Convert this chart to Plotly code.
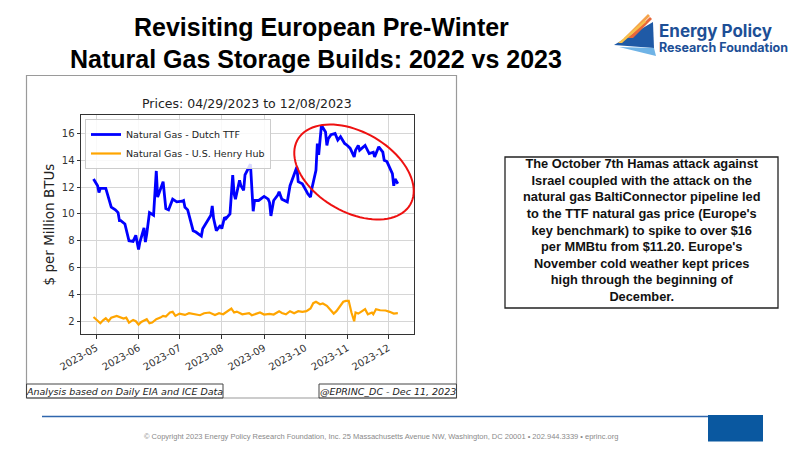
import numpy as np
import plotly.graph_objects as go

# Dutch TTF, $/MMBtu
ttf_dates = ["2023-04-29", "2023-05-02", "2023-05-03", "2023-05-04", "2023-05-08", "2023-05-10",
             "2023-05-12", "2023-05-15", "2023-05-17", "2023-05-18", "2023-05-19", "2023-05-22",
             "2023-05-25", "2023-05-28", "2023-05-30", "2023-06-01", "2023-06-02", "2023-06-05",
             "2023-06-06", "2023-06-07", "2023-06-09", "2023-06-12", "2023-06-14", "2023-06-15",
             "2023-06-19", "2023-06-21", "2023-06-23", "2023-06-26", "2023-06-29", "2023-07-03",
             "2023-07-04", "2023-07-05", "2023-07-07", "2023-07-11", "2023-07-13", "2023-07-17",
             "2023-07-18", "2023-07-21", "2023-07-24", "2023-07-25", "2023-07-26", "2023-07-28",
             "2023-07-31", "2023-08-01", "2023-08-03", "2023-08-04", "2023-08-07", "2023-08-09",
             "2023-08-10", "2023-08-11", "2023-08-14", "2023-08-15", "2023-08-17", "2023-08-18",
             "2023-08-22", "2023-08-24", "2023-08-25", "2023-08-28", "2023-09-01", "2023-09-04",
             "2023-09-05", "2023-09-06", "2023-09-08", "2023-09-11", "2023-09-12", "2023-09-14",
             "2023-09-18", "2023-09-20", "2023-09-22", "2023-09-25", "2023-09-26", "2023-09-29",
             "2023-10-02", "2023-10-03", "2023-10-05", "2023-10-06", "2023-10-09", "2023-10-10",
             "2023-10-11", "2023-10-13", "2023-10-16", "2023-10-17", "2023-10-18", "2023-10-20",
             "2023-10-23", "2023-10-25", "2023-10-27", "2023-10-30", "2023-11-01", "2023-11-03",
             "2023-11-06", "2023-11-07", "2023-11-09", "2023-11-10", "2023-11-14", "2023-11-17",
             "2023-11-20", "2023-11-21", "2023-11-24", "2023-11-27", "2023-11-28", "2023-11-30",
             "2023-12-04", "2023-12-05", "2023-12-06", "2023-12-08"]
ttf_price = [12.6, 12.1, 11.6, 11.9, 11.9, 11.25,
             10.5, 10.3, 10.1, 9.5, 9.5, 9.25,
             8.0, 7.95, 8.4, 7.35, 7.9, 8.95,
             7.9, 8.5, 10.1, 9.9, 13.2, 11.25,
             12.4, 10.4, 10.3, 11.1, 10.9, 10.95,
             11.0, 10.5, 10.3, 8.75, 8.65, 8.35,
             8.9, 9.4, 9.9, 10.6, 9.65, 8.75,
             9.15, 8.9, 9.75, 9.65, 10.0, 12.9,
             11.5, 11.1, 12.5, 12.1, 11.75, 12.9,
             13.7, 10.2, 11.0, 11.0, 11.3, 11.1,
             10.85, 9.85, 11.0, 11.4, 11.65, 11.1,
             10.9, 12.1, 12.7, 13.5, 12.4, 12.25,
             11.7, 11.5, 11.25, 11.9, 13.25, 15.25,
             14.4, 16.6, 16.1, 15.1, 15.6, 15.9,
             16.0, 15.5, 15.75, 15.25, 15.1, 14.9,
             14.25, 14.75, 15.1, 14.75, 15.1, 14.5,
             14.6, 14.25, 15.0, 14.6, 14.0, 13.9,
             13.0, 12.1, 12.6, 12.25]

# U.S. Henry Hub, $/MMBtu
hh_dates = ["2023-04-29", "2023-05-02", "2023-05-04", "2023-05-06", "2023-05-08", "2023-05-10",
            "2023-05-12", "2023-05-16", "2023-05-18", "2023-05-21", "2023-05-23", "2023-05-25",
            "2023-05-28", "2023-05-30", "2023-06-01", "2023-06-03", "2023-06-07", "2023-06-09",
            "2023-06-11", "2023-06-14", "2023-06-17", "2023-06-19", "2023-06-21", "2023-06-24",
            "2023-06-26", "2023-06-28", "2023-07-01", "2023-07-05", "2023-07-08", "2023-07-12",
            "2023-07-16", "2023-07-19", "2023-07-23", "2023-07-27", "2023-07-30", "2023-08-02",
            "2023-08-05", "2023-08-08", "2023-08-10", "2023-08-12", "2023-08-16", "2023-08-18",
            "2023-08-21", "2023-08-23", "2023-08-26", "2023-08-29", "2023-09-01", "2023-09-05",
            "2023-09-08", "2023-09-12", "2023-09-14", "2023-09-17", "2023-09-20", "2023-09-23",
            "2023-09-26", "2023-09-29", "2023-10-02", "2023-10-05", "2023-10-07", "2023-10-09",
            "2023-10-12", "2023-10-14", "2023-10-17", "2023-10-19", "2023-10-22", "2023-10-24",
            "2023-10-27", "2023-10-29", "2023-10-31", "2023-11-02", "2023-11-04", "2023-11-06",
            "2023-11-07", "2023-11-09", "2023-11-11", "2023-11-14", "2023-11-16", "2023-11-19",
            "2023-11-20", "2023-11-22", "2023-11-25", "2023-11-29", "2023-12-02", "2023-12-05",
            "2023-12-08"]
hh_price = [2.32, 2.0, 1.85, 2.07, 2.22, 2.0,
            2.27, 2.4, 2.32, 2.2, 2.27, 1.9,
            2.1, 2.0, 1.75, 1.95, 2.15, 1.85,
            1.9, 2.15, 2.27, 2.4, 2.35, 2.65,
            2.7, 2.4, 2.57, 2.47, 2.6, 2.52,
            2.45, 2.6, 2.65, 2.47, 2.6, 2.52,
            2.72, 2.95, 2.65, 2.72, 2.52, 2.57,
            2.6, 2.45, 2.55, 2.65, 2.5, 2.55,
            2.5, 2.75, 2.62, 2.52, 2.75, 2.6,
            2.75, 2.7, 2.75, 2.95, 3.35, 3.45,
            3.27, 3.32, 3.15, 2.9, 2.57, 2.75,
            3.15, 3.45, 3.52, 3.52, 2.65, 2.0,
            2.65, 2.57, 2.7, 2.9, 2.52, 2.65,
            2.52, 2.9, 2.82, 2.8, 2.7, 2.57,
            2.6]

y_ticks = [2, 4, 6, 8, 10, 12, 14, 16]
x_ticks = ["2023-05-01", "2023-06-01", "2023-07-01", "2023-08-01",
           "2023-09-01", "2023-10-01", "2023-11-01", "2023-12-01"]
x_tick_labels = ["2023-05", "2023-06", "2023-07", "2023-08",
                 "2023-09", "2023-10", "2023-11", "2023-12"]

note_lines = ["The October 7th Hamas attack against",
              "Israel coupled with the attack on the",
              "natural gas BaltiConnector pipeline led",
              "to the TTF natural gas price (Europe's",
              "key benchmark) to spike to over $16",
              "per MMBtu from $11.20. Europe's",
              "November cold weather kept prices",
              "high through the beginning of",
              "December."]

# plot area in page pixels
L, R, T, B = 81, 414, 115, 334


def px(x):
    return (x - L) / (R - L)


def py(y):
    return (B - y) / (B - T)


MPL = "DejaVu Sans"
SANS = "Liberation Sans, Arial"

fig = go.Figure()
fig.add_trace(go.Scatter(x=ttf_dates, y=ttf_price, mode="lines",
                         name="Natural Gas - Dutch TTF",
                         line=dict(color="#0000ff", width=2.8)))
fig.add_trace(go.Scatter(x=hh_dates, y=hh_price, mode="lines",
                         name="Natural Gas - U.S. Henry Hub",
                         line=dict(color="#ffa500", width=2.2)))

shapes = []
# chart image frame + caption boxes
shapes.append(dict(type="rect", xref="paper", yref="paper",
                   x0=px(26.5), x1=px(456.5), y0=py(398), y1=py(75.5),
                   line=dict(color="#9a9a9a", width=1.2), layer="below"))
shapes.append(dict(type="rect", xref="paper", yref="paper",
                   x0=px(26.5), x1=px(223), y0=py(398), y1=py(384),
                   line=dict(color="#444", width=1)))
shapes.append(dict(type="rect", xref="paper", yref="paper",
                   x0=px(319), x1=px(456.5), y0=py(398), y1=py(384),
                   line=dict(color="#444", width=1)))

# red ellipse around the October spike
t = np.linspace(0, 2 * np.pi, 90)
cx, cy, a, b, th = 354, 172, 65, 40, np.radians(30)
ex = cx + a * np.cos(t) * np.cos(th) - b * np.sin(t) * np.sin(th)
ey = cy + a * np.cos(t) * np.sin(th) + b * np.sin(t) * np.cos(th)
path = "M " + " L ".join(f"{px(u):.4f},{py(v):.4f}" for u, v in zip(ex, ey)) + " Z"
shapes.append(dict(type="path", xref="paper", yref="paper", path=path,
                   line=dict(color="#ee1111", width=2)))

# note box
shapes.append(dict(type="rect", xref="paper", yref="paper",
                   x0=px(505), x1=px(778), y0=py(308), y1=py(157),
                   line=dict(color="#222", width=1.3)))

# footer rule + blue square
shapes.append(dict(type="line", xref="paper", yref="paper",
                   x0=px(42), x1=px(708), y0=py(416.5), y1=py(416.5),
                   line=dict(color="#2f66ad", width=1.5)))
shapes.append(dict(type="rect", xref="paper", yref="paper",
                   x0=px(708), x1=px(763), y0=py(441.5), y1=py(415),
                   fillcolor="#0a58a0", line=dict(width=0)))


# logo: triangles and streaks
def poly(pts, color):
    p = "M " + " L ".join(f"{px(u):.4f},{py(v):.4f}" for u, v in pts) + " Z"
    return dict(type="path", xref="paper", yref="paper", path=p,
                fillcolor=color, line=dict(width=0))


shapes.append(poly([(614, 45), (653, 22), (654, 48)], "#1f5aa6"))
shapes.append(poly([(619, 47), (654, 48), (656, 56)], "#6fb3e6"))
shapes.append(poly([(624, 38), (648, 14), (650, 16), (628, 38)], "#f5a24a"))
shapes.append(poly([(628, 38), (650, 17), (652, 19), (633, 38)], "#e8673a"))
shapes.append(poly([(618, 43), (645, 20), (646, 22), (622, 43)], "#f7c04a"))


def label(text, x, y, size, family=SANS, color="#000", xanchor="center", **kw):
    return dict(text=text, x=px(x), y=py(y), xref="paper", yref="paper",
                xanchor=xanchor, yanchor="middle", showarrow=False,
                font=dict(family=family, size=size, color=color), **kw)


ann = [
    label("<b>Revisiting European Pre-Winter</b>", 321, 27, 25),
    label("<b>Natural Gas Storage Builds: 2022 vs 2023</b>", 316, 59, 25),
    label("Prices: 04/29/2023 to 12/08/2023", 247, 103, 12.5, MPL, "#222"),
    label("<i>Analysis based on Daily EIA and ICE Data</i>", 124.5, 391, 9.5, MPL, "#222"),
    label("<i>@EPRINC_DC - Dec 11, 2023</i>", 388, 391, 9.5, MPL, "#222"),
    label("<b>Energy Policy</b>", 657, 31, 17, "Inter, Noto Sans", "#1d4f96", "left"),
    label("<b>Research Foundation</b>", 657, 47, 12.5, "Inter, Noto Sans", "#1d4f96", "left"),
    label("<br>".join(f"<b>{s}</b>" for s in note_lines), 641.5, 230, 12.8, SANS, "#111",
          align="center"),
    label("© Copyright 2023 Energy Policy Research Foundation, Inc. 25 Massachusetts Avenue NW, "
          "Washington, DC 20001 • 202.944.3339 • eprinc.org", 381, 436, 7.5, SANS, "#8a8a8a"),
]

fig.update_layout(
    width=800, height=450,
    margin=dict(l=L, r=800 - R, t=T, b=450 - B, pad=0),
    paper_bgcolor="white", plot_bgcolor="white",
    showlegend=True,
    legend=dict(x=px(85), y=py(119), xanchor="left", yanchor="top",
                bgcolor="rgba(255,255,255,0.85)", bordercolor="#cccccc", borderwidth=1,
                font=dict(family=MPL, size=9.5, color="#222"),
                tracegroupgap=0, itemwidth=30),
    shapes=shapes,
    annotations=ann,
    xaxis=dict(range=["2023-04-19 20:00", "2023-12-19 20:00"],
               tickmode="array", tickvals=x_ticks, ticktext=x_tick_labels,
               tickangle=-30, ticks="outside", ticklen=3.5, tickcolor="#333",
               showgrid=True, gridcolor="#d6d6d6", gridwidth=1,
               showline=True, mirror=True, linecolor="#333", linewidth=1,
               tickfont=dict(family=MPL, size=10, color="#333"), zeroline=False),
    yaxis=dict(range=[1.05, 17.37], tickmode="array", tickvals=y_ticks,
               ticks="outside", ticklen=3.5, tickcolor="#333",
               showgrid=True, gridcolor="#d6d6d6", gridwidth=1,
               showline=True, mirror=True, linecolor="#333", linewidth=1,
               tickfont=dict(family=MPL, size=10, color="#333"), zeroline=False,
               title=dict(text="$ per Million BTUs", standoff=4,
                          font=dict(family=MPL, size=13.5, color="#222"))),
)

# page body has a default 8px margin; drop it so the figure sits at 0,0
fig.write_html("out.html", config={"displayModeBar": False},
               post_script="document.body.style.margin='0';")
